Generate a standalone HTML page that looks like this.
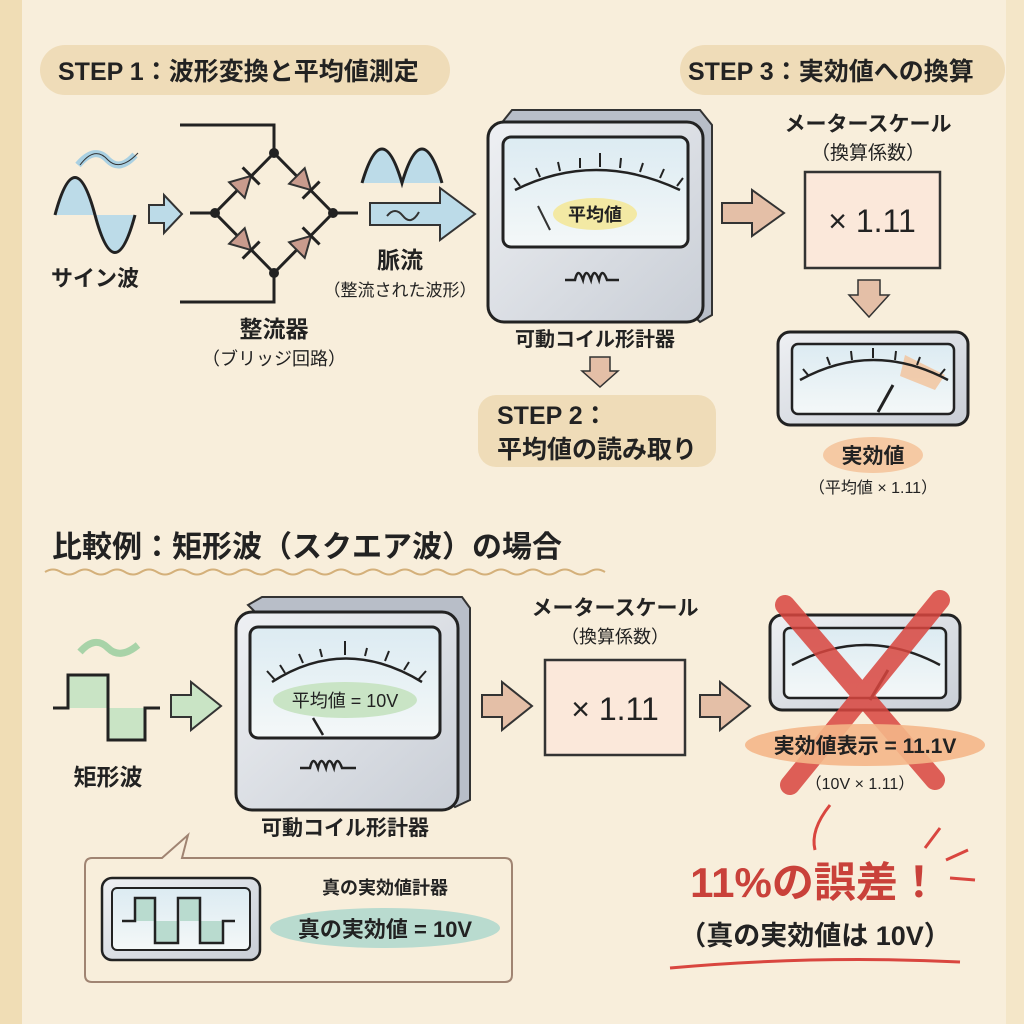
<!DOCTYPE html>
<html><head><meta charset="utf-8"><style>
html,body{margin:0;padding:0;background:#f8eedb;}
svg{display:block}
text{font-family:"Liberation Sans","Noto Sans CJK JP",sans-serif;fill:#222;}
</style></head><body>
<svg width="1024" height="1024" viewBox="0 0 1024 1024" xmlns="http://www.w3.org/2000/svg">
<defs>
<linearGradient id="mg" x1="0" y1="0" x2="1" y2="1"><stop offset="0" stop-color="#eef0f3"/><stop offset="1" stop-color="#c9ced6"/></linearGradient>
<linearGradient id="sc" x1="0" y1="0" x2="0" y2="1"><stop offset="0" stop-color="#dcebf2"/><stop offset="1" stop-color="#f4f8f8"/></linearGradient>
<g id="diode"><polygon points="-10,-11 -10,11 10,0" fill="#c99b8d" stroke="#333" stroke-width="2"/><path d="M10 -12 V12" stroke="#222" stroke-width="3"/></g>
</defs>
<rect width="1024" height="1024" fill="#f8eedb"/>
<rect x="0" y="0" width="22" height="1024" fill="#f0ddb5"/>
<rect x="1006" y="0" width="18" height="1024" fill="#f4e6c8"/>

<!-- STEP pills -->
<rect x="40" y="45" width="410" height="50" rx="25" fill="#efdcb8"/>
<text x="58" y="80" font-size="25" font-weight="bold">STEP 1：波形変換と平均値測定</text>
<rect x="680" y="45" width="325" height="50" rx="25" fill="#efdcb8"/>
<text x="688" y="80" font-size="25" font-weight="bold">STEP 3：実効値への換算</text>

<!-- sine wave -->
<path d="M55 215 Q75 140 95 215 L55 215Z" fill="#bcdbe8"/>
<path d="M95 215 Q115 290 135 215 L95 215Z" fill="#bcdbe8"/>
<path d="M55 215 Q75 140 95 215 Q115 290 135 215" fill="none" stroke="#222" stroke-width="3"/>
<path d="M78 165 Q95 145 108 160 Q120 172 135 155" fill="none" stroke="#a9d0e2" stroke-width="7"/>
<path d="M80 165 Q95 145 108 160 Q120 172 138 153" fill="none" stroke="#333" stroke-width="1"/>
<text x="95" y="286" font-size="22" font-weight="bold" text-anchor="middle">サイン波</text>
<path d="M149 205 h15 v-10 l18 19 l-18 19 v-10 h-15z" fill="#bcdbe8" stroke="#333" stroke-width="2"/>

<!-- bridge -->
<g stroke="#222" stroke-width="3" fill="none">
<path d="M180 125 H274 V153 M180 302 H274 V273 M190 213 H215 M333 213 H358"/>
<path d="M274 153 L215 213 L274 273 L333 213 Z"/>
</g>
<use href="#diode" transform="translate(244,183) rotate(-45)"/>
<use href="#diode" transform="translate(304,183) rotate(45)"/>
<use href="#diode" transform="translate(244,243) rotate(45)"/>
<use href="#diode" transform="translate(304,243) rotate(-45)"/>
<g fill="#222"><circle cx="274" cy="153" r="5"/><circle cx="274" cy="273" r="5"/><circle cx="215" cy="213" r="5"/><circle cx="333" cy="213" r="5"/></g>
<text x="274" y="337" font-size="23" font-weight="bold" text-anchor="middle">整流器</text>
<text x="274" y="365" font-size="18" text-anchor="middle">（ブリッジ回路）</text>

<!-- pulsating -->
<path d="M362 183 Q382 115 402 183 Q422 115 442 183Z" fill="#bcdbe8"/>
<path d="M362 183 Q382 115 402 183 Q422 115 442 183" fill="none" stroke="#222" stroke-width="3"/>
<path d="M370 203 h70 v-15 l35 26 l-35 26 v-15 h-70z" fill="#bcdbe8" stroke="#333" stroke-width="2"/>
<path d="M387 216 q8 -10 16 0 q8 10 16 -4" fill="none" stroke="#333" stroke-width="2"/>
<text x="400" y="268" font-size="23" font-weight="bold" text-anchor="middle">脈流</text>
<text x="400" y="296" font-size="17" text-anchor="middle">（整流された波形）</text>

<!-- meter 1 -->
<path d="M500 125 L512 110 H700 L712 125 V315 L700 322 Z" fill="#b8bec8" stroke="#333" stroke-width="2"/>
<rect x="488" y="122" width="215" height="200" rx="16" fill="url(#mg)" stroke="#222" stroke-width="3"/>
<rect x="503" y="137" width="185" height="110" rx="8" fill="url(#sc)" stroke="#222" stroke-width="3"/>
<path d="M515 190 Q595 150 680 190" fill="none" stroke="#222" stroke-width="2.5"/>
<g stroke="#222" stroke-width="2"><path d="M520 186 l-6 -8 M540 177 l-4 -9 M560 171 l-2 -9 M580 168 l0 -10 M600 167 l0 -14 M620 168 l1 -10 M640 172 l3 -9 M660 178 l4 -9 M677 186 l6 -8"/></g>
<ellipse cx="595" cy="214" rx="42" ry="16" fill="#f3e9a4"/>
<text x="595" y="221" font-size="18" font-weight="bold" text-anchor="middle">平均値</text>
<path d="M550 230 L538 206" stroke="#333" stroke-width="2"/>
<path d="M565 280 h10 q3 -14 8 0 q3 -14 8 0 q3 -14 8 0 q3 -14 8 0 h12" fill="none" stroke="#222" stroke-width="2.5"/>
<text x="595" y="346" font-size="20" font-weight="bold" text-anchor="middle">可動コイル形計器</text>
<path d="M590 357 h20 v14 h8 l-18 16 l-18 -16 h8z" fill="#e4bfa7" stroke="#333" stroke-width="1.5"/>
<rect x="478" y="395" width="238" height="72" rx="18" fill="#efdcb8"/>
<text x="497" y="424" font-size="25" font-weight="bold">STEP 2：</text>
<text x="497" y="458" font-size="25" font-weight="bold">平均値の読み取り</text>

<!-- step3 -->
<path d="M722 203 h30 v-13 l32 23 l-32 23 v-13 h-30z" fill="#e4bfa7" stroke="#333" stroke-width="2"/>
<text x="868" y="131" font-size="21" font-weight="bold" text-anchor="middle">メータースケール</text>
<text x="868" y="159" font-size="19" text-anchor="middle">（換算係数）</text>
<rect x="805" y="172" width="135" height="96" fill="#fbe8da" stroke="#333" stroke-width="2.5"/>
<text x="872" y="232" font-size="32" text-anchor="middle">× 1.11</text>
<path d="M858 280 h22 v15 h9 l-20 22 l-20 -22 h9z" fill="#e4bfa7" stroke="#333" stroke-width="1.5"/>
<rect x="778" y="332" width="190" height="93" rx="12" fill="url(#mg)" stroke="#222" stroke-width="3"/>
<rect x="792" y="344" width="162" height="70" rx="6" fill="url(#sc)" stroke="#222" stroke-width="2.5"/>
<path d="M905 355 l40 20 l-10 15 l-35 -14z" fill="#f2c29a" opacity="0.8"/>
<path d="M800 380 Q873 340 948 380" fill="none" stroke="#222" stroke-width="2.5"/>
<g stroke="#222" stroke-width="2"><path d="M808 375 l-5 -6 M830 365 l-3 -8 M852 360 l-1 -9 M873 358 v-10 M895 360 l1 -9 M917 365 l3 -8 M940 375 l5 -6"/></g>
<path d="M878 412 L893 385" stroke="#222" stroke-width="3"/>
<ellipse cx="873" cy="455" rx="50" ry="18" fill="#f5c9a3"/>
<text x="873" y="463" font-size="21" font-weight="bold" text-anchor="middle">実効値</text>
<text x="873" y="493" font-size="16" text-anchor="middle">（平均値 × 1.11）</text>

<!-- section -->
<text x="52" y="557" font-size="30" font-weight="bold">比較例：矩形波（スクエア波）の場合</text>
<path d="M45 572 q8 -5 16 0 t16 0 t16 0 t16 0 t16 0 t16 0 t16 0 t16 0 t16 0 t16 0 t16 0 t16 0 t16 0 t16 0 t16 0 t16 0 t16 0 t16 0 t16 0 t16 0 t16 0 t16 0 t16 0 t16 0 t16 0 t16 0 t16 0 t16 0 t16 0 t16 0 t16 0 t16 0 t16 0 t16 0 t16 0" fill="none" stroke="#d4b07a" stroke-width="2"/>

<!-- square wave -->
<rect x="68" y="675" width="40" height="33" fill="#c9e4c5"/>
<rect x="108" y="708" width="37" height="32" fill="#c9e4c5"/>
<path d="M53 708 H68 V675 H108 V740 H145 V708 H160" fill="none" stroke="#222" stroke-width="3"/>
<path d="M80 652 Q95 635 108 648 Q120 660 138 645" fill="none" stroke="#a8d3a8" stroke-width="7"/>
<text x="108" y="785" font-size="23" font-weight="bold" text-anchor="middle">矩形波</text>
<path d="M171 695 h20 v-13 l30 24 l-30 24 v-13 h-20z" fill="#c9e4c5" stroke="#333" stroke-width="2"/>

<!-- meter 2 -->
<path d="M248 605 L262 597 H462 L470 608 V800 L455 807 Z" fill="#b8bec8" stroke="#333" stroke-width="2"/>
<rect x="236" y="612" width="222" height="198" rx="16" fill="url(#mg)" stroke="#222" stroke-width="3"/>
<rect x="250" y="627" width="190" height="111" rx="8" fill="url(#sc)" stroke="#222" stroke-width="3"/>
<path d="M272 682 Q345 635 422 682" fill="none" stroke="#222" stroke-width="2.5"/>
<g stroke="#222" stroke-width="2"><path d="M275 680 l-8 -9 M285 673 l-5 -8 M303 663 l-4 -9 M322 657 l-2 -8 M345 655 v-14 M365 656 l2 -8 M385 661 l4 -10 M404 670 l5 -8 M418 680 l8 -9"/></g>
<ellipse cx="345" cy="700" rx="72" ry="18" fill="#c9e4c5"/>
<text x="345" y="707" font-size="18" text-anchor="middle">平均値 = 10V</text>
<path d="M323 735 L313 718" stroke="#222" stroke-width="2.5"/>
<path d="M300 768 h10 q3 -14 8 0 q3 -14 8 0 q3 -14 8 0 q3 -14 8 0 h14" fill="none" stroke="#222" stroke-width="2.5"/>
<text x="345" y="835" font-size="21" font-weight="bold" text-anchor="middle">可動コイル形計器</text>

<path d="M482 695 h20 v-13 l30 24 l-30 24 v-13 h-20z" fill="#e4bfa7" stroke="#333" stroke-width="2"/>
<text x="615" y="615" font-size="21" font-weight="bold" text-anchor="middle">メータースケール</text>
<text x="615" y="643" font-size="18" text-anchor="middle">（換算係数）</text>
<rect x="545" y="660" width="140" height="95" fill="#fbe8da" stroke="#333" stroke-width="2.5"/>
<text x="615" y="720" font-size="32" text-anchor="middle">× 1.11</text>
<path d="M700 695 h20 v-13 l30 24 l-30 24 v-13 h-20z" fill="#e4bfa7" stroke="#333" stroke-width="2"/>

<rect x="770" y="615" width="190" height="95" rx="12" fill="url(#mg)" stroke="#222" stroke-width="3"/>
<rect x="784" y="628" width="162" height="70" rx="6" fill="url(#sc)" stroke="#222" stroke-width="2.5"/>
<path d="M792 665 Q865 625 940 665" fill="none" stroke="#222" stroke-width="2.5"/>
<path d="M870 700 L888 670" stroke="#222" stroke-width="3"/>
<g stroke="#d9463f" stroke-width="20" stroke-linecap="round" opacity="0.85"><path d="M785 605 L935 780"/><path d="M940 600 L790 785"/></g>
<ellipse cx="865" cy="745" rx="120" ry="21" fill="#f4b688" opacity="0.9"/>
<text x="865" y="753" font-size="21" font-weight="bold" text-anchor="middle">実効値表示 = 11.1V</text>
<text x="860" y="789" font-size="16" text-anchor="middle">（10V × 1.11）</text>
<g stroke="#d9463f" stroke-width="3" fill="none"><path d="M830 805 Q810 830 815 850"/><path d="M940 828 l-15 20"/><path d="M968 850 l-22 10"/><path d="M975 880 l-25 -2"/></g>
<text x="815" y="897" font-size="42" font-weight="bold" text-anchor="middle" style="fill:#c9413a">11%の誤差！</text>
<text x="815" y="945" font-size="27" font-weight="bold" text-anchor="middle">（真の実効値は 10V）</text>
<path d="M670 968 Q815 955 960 962" fill="none" stroke="#d9463f" stroke-width="3"/>

<!-- callout -->
<path d="M100 858 H162 L188 835 L182 858 H505 Q512 858 512 866 V975 Q512 982 505 982 H92 Q85 982 85 975 V866 Q85 858 92 858 Z" fill="#f8eedb" stroke="#a08472" stroke-width="2"/>
<rect x="102" y="878" width="158" height="82" rx="10" fill="url(#mg)" stroke="#222" stroke-width="2.5"/>
<rect x="112" y="888" width="138" height="62" rx="5" fill="url(#sc)" stroke="#222" stroke-width="2"/>
<g fill="#b9dbcf"><rect x="135" y="898" width="20" height="23"/><rect x="155" y="921" width="23" height="22"/><rect x="180" y="898" width="20" height="23"/><rect x="200" y="921" width="23" height="22"/></g>
<path d="M122 921 H135 V898 H155 V943 H178 V898 H200 V943 H223 V921 H235" fill="none" stroke="#222" stroke-width="2.5"/>
<text x="385" y="894" font-size="18" font-weight="bold" text-anchor="middle">真の実効値計器</text>
<ellipse cx="385" cy="928" rx="115" ry="20" fill="#b9dbcf"/>
<text x="385" y="937" font-size="22" font-weight="bold" text-anchor="middle">真の実効値 = 10V</text>
</svg>
</body></html>
